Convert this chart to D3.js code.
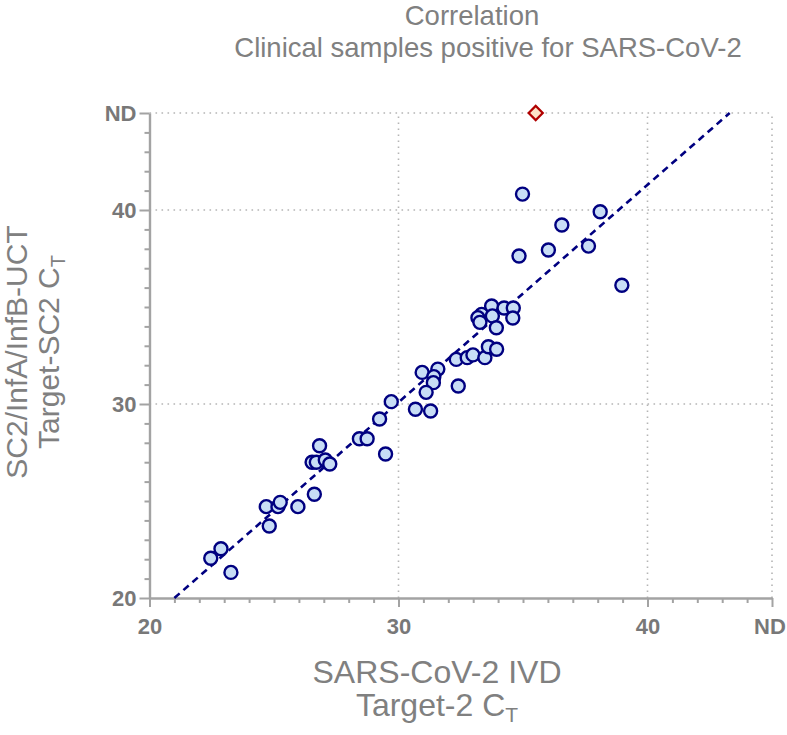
<!DOCTYPE html>
<html>
<head>
<meta charset="utf-8">
<script src="https://cdn.jsdelivr.net/npm/d3@7"></script>
<style>
  html, body { margin: 0; padding: 0; background: #fff; }
  svg { display: block; font-family: "Liberation Sans", Arial, sans-serif; }
</style>
</head>
<body>
<svg id="chart" width="787" height="735"></svg>
<script>
// ---- data ----
const titleLines = ["Correlation", "Clinical samples positive for SARS-CoV-2"];
const xTitleLines = ["SARS-CoV-2 IVD", "Target-2 C"];
const yTitleLines = ["SC2/InfA/InfB-UCT", "Target-SC2 C"];
const tickValues = [20, 30, 40, 45];
const tickLabels = ["20", "30", "40", "ND"];
const gridValues = [30, 40, 45];
const minorTickValues = d3.range(21, 45).filter(v => v % 10 !== 0);

// SARS-CoV-2 IVD Target-2 Ct (x)
const ivdCt = [
  22.46, 22.87, 23.27, 24.69, 25.16, 25.25, 25.96, 24.81, 26.53, 26.70,
  27.06, 27.24, 26.83, 26.62, 28.43, 28.74, 29.48, 29.24, 29.71, 30.68,
  31.29, 30.95, 31.58, 31.42, 31.40, 31.11, 32.32, 32.76, 32.99, 33.47,
  33.61, 33.94, 32.40, 33.34, 33.19, 33.27, 33.74, 33.77, 33.93, 34.24,
  34.61, 34.59, 34.98, 38.10, 36.56, 36.02, 37.63, 34.84, 38.97
];
// SC2/InfA/InfB-UCT Target-SC2 Ct (y)
const uctCt = [
  22.05, 22.54, 21.32, 24.71, 24.71, 24.93, 24.71, 23.71, 27.00, 27.00,
  27.11, 26.91, 27.85, 25.35, 28.21, 28.21, 27.42, 29.23, 30.12, 29.73,
  29.64, 31.63, 31.80, 31.41, 31.10, 30.60, 32.30, 32.39, 32.53, 32.39,
  32.95, 32.82, 30.93, 34.62, 34.45, 34.21, 35.05, 34.54, 33.93, 34.95,
  34.95, 34.43, 40.82, 39.91, 39.23, 37.94, 38.14, 37.63, 36.12
];
// discordant sample: detected by IVD, not detected (ND) by UCT
const ndIvdCt = [35.51];
const ndUctCt = [45];

// linear fit
const fitSlope = 1.121;
const fitIntercept = -3.54;

// ---- layout ----
const svg = d3.select("#chart");
const x = d3.scaleLinear().domain([20, 45]).range([149.5, 772]);
const y = d3.scaleLinear().domain([20, 45]).range([598, 113]);

const textGray = "#808080";
const tickGray = "#787878";
const axisGray = "#a3a3a3";
const gridGray = "#b5b5b5";

// title
const titlePos = [{ cx: 472, by: 25 }, { cx: 488, by: 57 }];
svg.append("g").selectAll("text").data(titleLines).join("text")
  .attr("x", (d, i) => titlePos[i].cx).attr("y", (d, i) => titlePos[i].by)
  .attr("text-anchor", "middle")
  .attr("font-size", 27.5).attr("fill", textGray)
  .text(d => d);

// grid
const grid = svg.append("g");
grid.selectAll("line.gx").data(gridValues).join("line")
  .attr("class", "gx")
  .attr("x1", d => x(d)).attr("x2", d => x(d))
  .attr("y1", y(20)).attr("y2", y(45))
  .attr("stroke", gridGray).attr("stroke-width", 1.6)
  .attr("stroke-dasharray", "1.6,4.4");
grid.selectAll("line.gy").data(gridValues).join("line")
  .attr("class", "gy")
  .attr("y1", d => y(d)).attr("y2", d => y(d))
  .attr("x1", x(20)).attr("x2", x(45))
  .attr("stroke", gridGray).attr("stroke-width", 1.6)
  .attr("stroke-dasharray", "1.6,4.4");

// axes
function styleAxis(g) {
  g.select(".domain").attr("stroke", axisGray).attr("stroke-width", 2.4);
  g.selectAll(".tick line").attr("stroke", axisGray).attr("stroke-width", 2);
  g.selectAll(".tick text").attr("fill", tickGray)
    .attr("font-size", 22).attr("font-weight", "bold")
    .attr("font-family", "'Liberation Sans', Arial, sans-serif");
}
const xMinor = svg.append("g").attr("transform", `translate(0,${y(20)})`)
  .call(d3.axisBottom(x).tickValues(minorTickValues).tickSize(5).tickFormat("").tickSizeOuter(0));
xMinor.select(".domain").remove();
xMinor.selectAll(".tick line").attr("stroke", axisGray).attr("stroke-width", 2);

const yMinor = svg.append("g").attr("transform", `translate(${x(20)},0)`)
  .call(d3.axisLeft(y).tickValues(minorTickValues).tickSize(5).tickFormat("").tickSizeOuter(0));
yMinor.select(".domain").remove();
yMinor.selectAll(".tick line").attr("stroke", axisGray).attr("stroke-width", 2);

const xAxis = svg.append("g").attr("transform", `translate(0,${y(20)})`)
  .call(d3.axisBottom(x).tickValues(tickValues)
    .tickFormat((d, i) => tickLabels[i]).tickSize(9).tickSizeOuter(0).tickPadding(9));
styleAxis(xAxis);
xAxis.selectAll(".tick text").attr("dy", "0.82em")
  .attr("dx", d => d === 45 ? -2.5 : 0);

const yAxis = svg.append("g").attr("transform", `translate(${x(20)},0)`)
  .call(d3.axisLeft(y).tickValues(tickValues)
    .tickFormat((d, i) => tickLabels[i]).tickSize(10).tickSizeOuter(0).tickPadding(3));
styleAxis(yAxis);
yAxis.selectAll(".tick text").attr("dy", "0.36em");

// x title
const xt = svg.append("g").attr("fill", textGray).attr("font-size", 32);
xt.append("text").attr("x", 437).attr("y", 683).attr("text-anchor", "middle").text(xTitleLines[0]);
const xt2 = xt.append("text").attr("x", 437).attr("y", 716).attr("text-anchor", "middle");
xt2.append("tspan").text(xTitleLines[1]);
xt2.append("tspan").attr("font-size", 21).attr("dy", 6).text("T");

// y title
const yt = svg.append("g").attr("fill", textGray).attr("font-size", 30)
  .attr("transform", "translate(0,352) rotate(-90)");
yt.append("text").attr("x", 0).attr("y", 27).attr("text-anchor", "middle").text(yTitleLines[0]);
const yt2 = yt.append("text").attr("x", 0).attr("y", 59).attr("text-anchor", "middle");
yt2.append("tspan").text(yTitleLines[1]);
yt2.append("tspan").attr("font-size", 20).attr("dy", 6).text("T");

// regression line (clipped to y range)
const fx0 = (20 - fitIntercept) / fitSlope;
const fx1 = (45 - fitIntercept) / fitSlope;
svg.append("line")
  .attr("x1", x(fx0)).attr("y1", y(fitSlope * fx0 + fitIntercept))
  .attr("x2", x(fx1)).attr("y2", y(fitSlope * fx1 + fitIntercept))
  .attr("stroke", "#000080").attr("stroke-width", 2.6)
  .attr("stroke-dasharray", "7,5");

// points
const pts = ivdCt.map((v, i) => ({ x: v, y: uctCt[i] }));
svg.append("g").selectAll("circle").data(pts).join("circle")
  .attr("cx", d => x(d.x)).attr("cy", d => y(d.y)).attr("r", 6.5)
  .attr("fill", "#c8ddf6").attr("stroke", "#000080").attr("stroke-width", 2.4);

// ND diamond
const nd = ndIvdCt.map((v, i) => ({ x: v, y: ndUctCt[i] }));
svg.append("g").selectAll("path").data(nd).join("path")
  .attr("d", d3.symbol(d3.symbolSquare, 100))
  .attr("transform", d => `translate(${x(d.x)},${y(d.y)}) rotate(45)`)
  .attr("fill", "#fde3c8").attr("stroke", "#b00000").attr("stroke-width", 2.2);
</script>
</body>
</html>
